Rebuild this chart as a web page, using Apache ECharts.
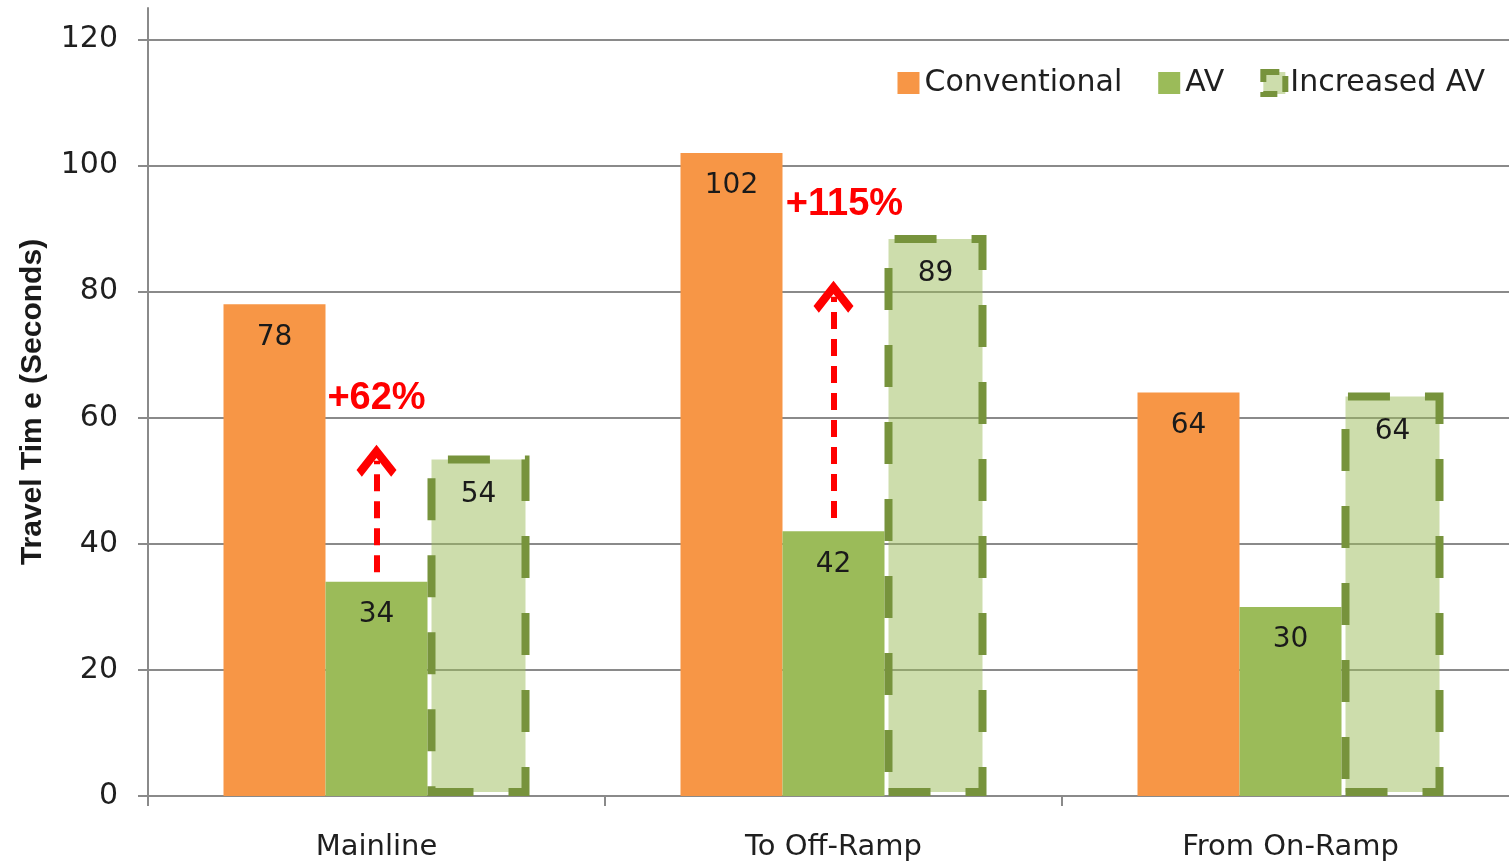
<!DOCTYPE html>
<html><head><meta charset="utf-8">
<script src="https://cdn.jsdelivr.net/npm/echarts@6/dist/echarts.min.js"></script>
<style>html,body{margin:0;padding:0;background:#fff}#c{width:1509px;height:862px}</style>
</head><body><div id="c"></div>
<script>
const categories = ['Mainline', 'To Off-Ramp', 'From On-Ramp'];
const seriesNames = ['Conventional', 'AV', 'Increased AV'];
const conventional = [78, 102, 64];
const av = [34, 42, 30];
const increasedAV = [54, 89, 64];
const yTicks = [0, 20, 40, 60, 80, 100, 120];
const yAxisTitle = 'Travel Tim e (Seconds)';
// red annotations: increase from AV to Increased AV
const increaseText = ['+62%', '+115%'];
const increaseCategory = ['Mainline', 'To Off-Ramp'];
const increaseTextValue = [63, 93.8];
const arrowFrom = [35.5, 44.1];
const arrowTo = [53.2, 79.2];

const FONT = 'DejaVu Sans';
const chart = echarts.init(document.getElementById('c'), null, {renderer: 'canvas'});

const arrowLines = increaseCategory.map((c, i) => [
  {coord: [c, arrowFrom[i]]},
  {coord: [c, arrowTo[i]]}
]);
const increasePoints = increaseCategory.map((c, i) => ({
  coord: [c, increaseTextValue[i]],
  value: increaseText[i],
  label: {offset: [i === 1 ? 11 : 0, 0]}
}));

chart.setOption({
  animation: false,
  backgroundColor: '#fff',
  grid: {left: 148, top: 8, right: -10, bottom: 66, containLabel: false, outerBoundsMode: 'none'},
  legend: {
    top: 63, right: 19,
    icon: 'rect',
    itemWidth: 22, itemHeight: 22, itemGap: 36,
    textStyle: {fontFamily: FONT, fontSize: 30, color: '#1f1f1f'},
    data: [
      {name: seriesNames[0]},
      {name: seriesNames[1]},
      {name: seriesNames[2], itemStyle: {color: 'rgba(155,187,89,0.5)', borderColor: '#77933c', borderWidth: 6, borderType: [16, 10]}}
    ]
  },
  xAxis: {
    type: 'category',
    data: categories,
    axisLine: {lineStyle: {color: '#8a8a8a', width: 2}},
    axisTick: {show: true, length: 10, lineStyle: {color: '#8a8a8a', width: 2}},
    axisLabel: {fontFamily: FONT, fontSize: 29, color: '#1f1f1f', margin: 37}
  },
  yAxis: {
    type: 'value',
    min: 0, max: 125, interval: 20,
    name: yAxisTitle,
    nameLocation: 'middle',
    nameGap: 100,
    nameTextStyle: {fontFamily: 'Liberation Sans', fontWeight: 'bold', fontSize: 30, color: '#1a1a1a'},
    axisLine: {show: true, lineStyle: {color: '#8a8a8a', width: 2}},
    axisTick: {show: true, length: 10, customValues: yTicks, lineStyle: {color: '#8a8a8a', width: 2}},
    axisLabel: {fontFamily: FONT, fontSize: 30, color: '#1f1f1f', margin: 30, customValues: yTicks},
    splitLine: {show: true, lineStyle: {color: '#8a8a8a', width: 2}}
  },
  series: [
    {
      name: seriesNames[0], type: 'bar', data: conventional,
      barWidth: 102, barGap: '0%',
      itemStyle: {color: '#f79646'},
      label: {show: true, position: 'insideTop', distance: 19, fontFamily: FONT, fontSize: 28, color: '#1a1a1a'}
    },
    {
      name: seriesNames[1], type: 'bar', data: av,
      barWidth: 102, barGap: '0%',
      itemStyle: {color: '#9bbb59'},
      label: {show: true, position: 'insideTop', distance: 19, fontFamily: FONT, fontSize: 28, color: '#1a1a1a'},
      markLine: {
        silent: true,
        symbol: ['none', 'path://M15,0 L30,19 L26,24 L15,10 L4,24 L0,19 Z'],
        symbolSize: [40, 32],
        label: {show: false},
        lineStyle: {color: '#ff0000', type: [17, 10], width: 6},
        data: arrowLines
      },
      markPoint: {
        silent: true,
        symbol: 'circle', symbolSize: 0,
        label: {show: true, position: 'inside', formatter: p => p.value, fontFamily: 'Liberation Sans', fontWeight: 'bold', fontSize: 38, color: '#ff0000'},
        data: increasePoints
      }
    },
    {
      name: seriesNames[2], type: 'bar', data: increasedAV,
      barWidth: 102, barGap: '0%',
      itemStyle: {color: 'rgba(155,187,89,0.5)', borderColor: '#77933c', borderWidth: 8, borderType: [42, 35]},
      label: {show: true, position: 'insideTop', distance: 25, fontFamily: FONT, fontSize: 28, color: '#1a1a1a'}
    }
  ]
});
</script></body></html>
